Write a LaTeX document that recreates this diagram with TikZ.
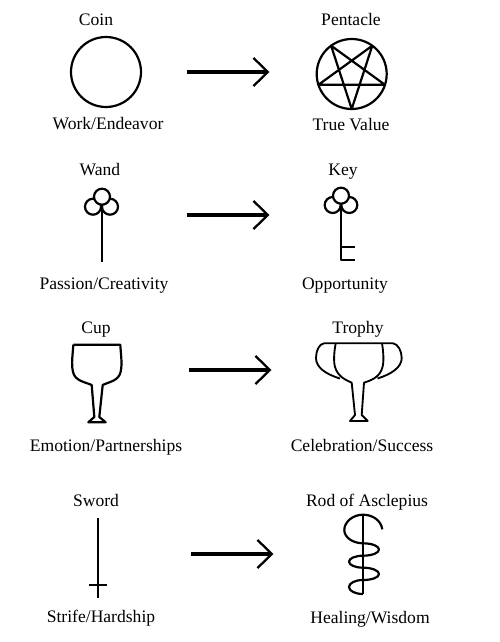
\documentclass[tikz,border=0pt]{standalone}
\usepackage{fontspec}
\setmainfont{Liberation Serif}
\usetikzlibrary{arrows.meta,calc}

\tikzset{
  label text/.style={font=\fontsize{10}{12}\selectfont, inner sep=0pt, anchor=base},
  symbol/.style={black, line width=1.25pt, line join=round},
  thin symbol/.style={black, line width=1.05pt, line join=round},
  turns into/.style={black, line width=1.9pt, -{Straight Barb[length=8.2pt,width=16pt,line width=1.3pt]}},
}

\begin{document}
\begin{tikzpicture}[x=0.02cm,y=-0.02cm]
\useasboundingbox (0,0) rectangle (500,642);
% first row
\node[label text] (coin)     at (96,26)   {Coin};
\node[label text] (work)     at (108,130) {Work/Endeavor};
\node[label text] (pentacle) at (351,26)  {Pentacle};
\node[label text] (value)    at (351,131) {True Value};
\draw[symbol] (106,72) circle (35);
\coordinate (P) at (351.7,74);
\draw[symbol] (P) circle (35);
\draw[symbol] ($(P)+(0,35)$) -- ($(P)+(-20.6,-28.3)$) -- ($(P)+(33.3,10.8)$) -- ($(P)+(-33.3,10.8)$) -- ($(P)+(20.6,-28.3)$) -- cycle;
\coordinate (arrA) at (187,72);
\coordinate (arrB) at (269.5,72);
\draw[turns into] (arrA) -- (arrB);
% second row
\node[label text] (wand)    at (100,175) {Wand};
\node[label text] (passion) at (104,289) {Passion/Creativity};
\node[label text] (key)     at (343,175) {Key};
\node[label text] (opp)     at (345,289) {Opportunity};
\draw[symbol, fill=white] (93,206.7) circle (8);
\draw[symbol, fill=white] (110,206.7) circle (8);
\draw[symbol, fill=white] (102,196.7) circle (8);
\draw[symbol] (102,204.7) -- (102,262);
\draw[symbol, fill=white] (332.7,205) circle (8);
\draw[symbol, fill=white] (349.3,205) circle (8);
\draw[symbol, fill=white] (341,195.7) circle (8);
\draw[symbol] (341,203.7) -- (341,260) -- (355,260);
\draw[symbol] (341,246.7) -- (355,246.7);
\coordinate (arrC) at (187,215);
\coordinate (arrD) at (269.5,215);
\draw[turns into] (arrC) -- (arrD);
% third row
\node[label text] (cup)     at (96,333)  {Cup};
\node[label text] (emotion) at (106,451) {Emotion/Partnerships};
\node[label text] (trophy)  at (358,333) {Trophy};
\node[label text] (success) at (362,451) {Celebration/Success};
\draw[symbol] (73.3,344.7) -- (120.3,344.7)
  .. controls (120.6,352) and (122.6,364) .. (120.6,372)
  .. controls (118.6,381) and (108.6,382) .. (102.7,385)
  -- (99.3,417) -- (105.7,422.3) -- (88.3,422.3) -- (94.3,417) -- (91.7,385)
  .. controls (85,382) and (75,381) .. (73,372)
  .. controls (71,364) and (73,352) .. (73.3,344.7);
\draw[thin symbol] (324,343.3) -- (393,343.3)
  .. controls (398,344) and (401.7,351) .. (401.7,358)
  .. controls (401.7,367) and (392,374) .. (377.5,378.5);
\draw[thin symbol] (324,343.3)
  .. controls (319,344) and (316,351) .. (316,358)
  .. controls (316,367) and (325,374) .. (340,378.5);
\draw[thin symbol] (335.7,343.3) .. controls (334,352) and (333.5,362) .. (335,367)
  .. controls (338,377) and (346,380) .. (351.7,382.7)
  -- (355,415) -- (350,421) -- (367.7,421) -- (361.7,415) -- (364,382.7)
  .. controls (372,380) and (380,377) .. (382.5,367)
  .. controls (384,362) and (383.5,352) .. (382,343.3);
\coordinate (arrE) at (189,370);
\coordinate (arrF) at (271.5,370);
\draw[turns into] (arrE) -- (arrF);
% fourth row
\node[label text] (sword)   at (96,506)  {Sword};
\node[label text] (strife)  at (101,622) {Strife/Hardship};
\node[label text] (rod)     at (367,506) {Rod of Asclepius};
\node[label text] (healing) at (370,623) {Healing/Wisdom};
\draw[symbol] (98.3,518) -- (98.3,598);
\draw[symbol] (89.3,585) -- (107.3,585);
\draw[symbol] (362.7,514) -- (362.7,594.3);
\draw[symbol] (382.3,529.3) .. controls (381,520) and (372,514.7) .. (363,514.7)
  .. controls (352.7,514.7) and (344.3,522) .. (344.3,530)
  .. controls (344.3,537.3) and (352.7,543.3) .. (363,543.3)
  .. controls (371.8,543.3) and (379,546) .. (379,549.5)
  .. controls (379,553) and (371.8,555.7) .. (363,555.7)
  .. controls (355.3,555.7) and (349,558.3) .. (349,561.7)
  .. controls (349,565) and (355.3,567.7) .. (363,567.7)
  .. controls (371.8,567.7) and (379,570.5) .. (379,574)
  .. controls (379,577.5) and (371.8,580) .. (363,580)
  .. controls (355.3,580) and (349,583) .. (349,587)
  .. controls (349,591) and (355.3,594) .. (363,594);
\coordinate (arrG) at (191,554);
\coordinate (arrH) at (273.5,554);
\draw[turns into] (arrG) -- (arrH);
\end{tikzpicture}
\end{document}
